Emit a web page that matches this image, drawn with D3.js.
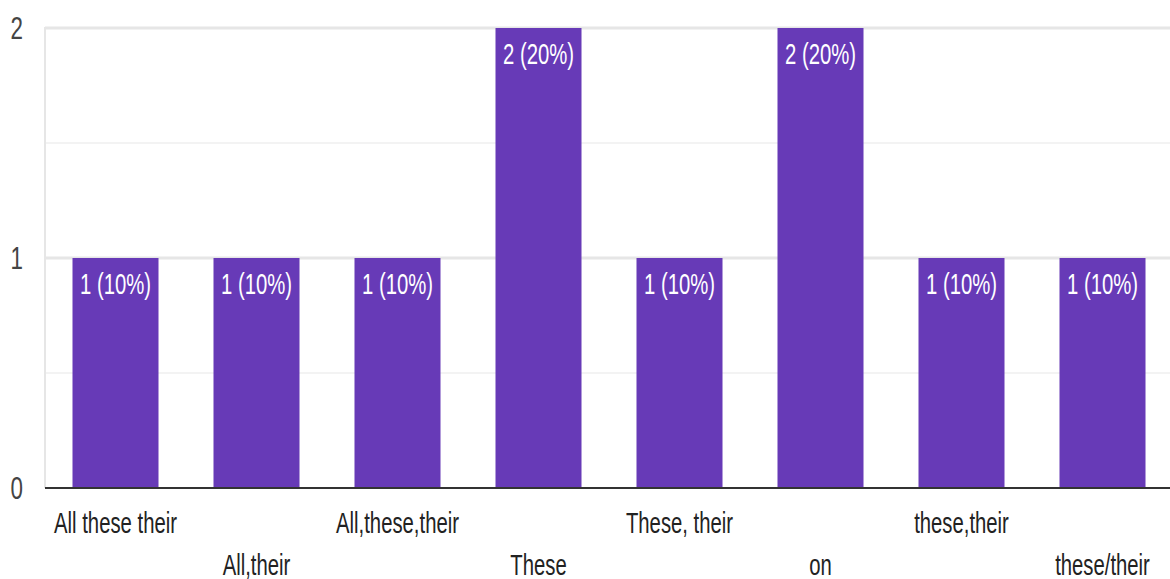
<!DOCTYPE html>
<html lang="en">
    <head>
        <meta charset="utf-8">
        <title>Responses bar chart</title>
        <script type="text/javascript" src="https://d3js.org/d3.v7.min.js"></script>
        <style type="text/css">
            body { margin: 0; background: #fff; }
            text { font-family: "Liberation Sans", Arial, sans-serif; }
        </style>
    </head>
    <body>
        <script type="text/javascript">

            // Datos
            var categories = ["All these their", "All,their", "All,these,their", "These",
                              "These, their", "on", "these,their", "these/their"];
            var counts = [1, 1, 1, 2, 1, 2, 1, 1];
            var percents = ["10%", "10%", "10%", "20%", "10%", "20%", "10%", "10%"];
            var yTicks = [0, 1, 2];
            var yMinor = [0.5, 1.5];

            var w = 1170;
            var h = 579;
            var padLeft = 45, padTop = 28, baseY = 488;
            var sx = 0.7; // texto estrecho

            var svg = d3.select("body")
                        .append("svg")
                        .attr("width", w)
                        .attr("height", h);

            var xScale = d3.scaleBand()
                           .domain(categories)
                           .range([padLeft, padLeft + 8 * 141])
                           .paddingInner(0.39)
                           .paddingOuter(0.195);

            var yScale = d3.scaleLinear()
                           .domain([0, 2])
                           .range([baseY, padTop]);

            // Lineas de rejilla
            svg.selectAll("line.minor")
                .data(yMinor)
                .enter()
                .append("line")
                .attr("class", "minor")
                .attr("x1", padLeft).attr("x2", w)
                .attr("y1", function(d) { return yScale(d); })
                .attr("y2", function(d) { return yScale(d); })
                .attr("stroke", "#f3f3f3")
                .attr("stroke-width", 2);

            svg.selectAll("line.major")
                .data(yTicks.filter(function(d) { return d > 0; }))
                .enter()
                .append("line")
                .attr("class", "major")
                .attr("x1", padLeft).attr("x2", w)
                .attr("y1", function(d) { return yScale(d); })
                .attr("y2", function(d) { return yScale(d); })
                .attr("stroke", "#e6e6e6")
                .attr("stroke-width", 3);

            svg.append("line")
                .attr("x1", padLeft).attr("x2", padLeft)
                .attr("y1", padTop - 1).attr("y2", baseY)
                .attr("stroke", "#e6e6e6")
                .attr("stroke-width", 2);

            // Barras
            svg.selectAll("rect")
                .data(counts)
                .enter()
                .append("rect")
                .attr("x", function(d, i) { return xScale(categories[i]); })
                .attr("y", function(d) { return yScale(d); })
                .attr("width", xScale.bandwidth())
                .attr("height", function(d) { return baseY - yScale(d); })
                .attr("fill", "#673ab7");

            // Etiquetas de barras
            svg.selectAll("text.val")
                .data(counts)
                .enter()
                .append("text")
                .attr("class", "val")
                .attr("transform", function(d, i) {
                    var cx = xScale(categories[i]) + xScale.bandwidth() / 2;
                    return "translate(" + cx + "," + (yScale(d) + 36) + ") scale(" + sx + ",1)";
                })
                .attr("text-anchor", "middle")
                .attr("font-size", 29)
                .attr("fill", "#fff")
                .text(function(d, i) { return d + " (" + percents[i] + ")"; });

            // Eje X
            svg.append("line")
                .attr("x1", padLeft).attr("x2", w)
                .attr("y1", baseY).attr("y2", baseY)
                .attr("stroke", "#333")
                .attr("stroke-width", 2);

            svg.selectAll("text.cat")
                .data(categories)
                .enter()
                .append("text")
                .attr("class", "cat")
                .attr("transform", function(d, i) {
                    var cx = xScale(d) + xScale.bandwidth() / 2;
                    var y = (i % 2 === 0) ? 533 : 575;
                    return "translate(" + cx + "," + y + ") scale(" + sx + ",1)";
                })
                .attr("text-anchor", "middle")
                .attr("font-size", 29)
                .attr("fill", "#222")
                .text(function(d) { return d; });

            // Eje Y
            svg.selectAll("text.ytick")
                .data(yTicks)
                .enter()
                .append("text")
                .attr("class", "ytick")
                .attr("transform", function(d) {
                    return "translate(23," + (yScale(d) + 11) + ") scale(" + sx + ",1)";
                })
                .attr("text-anchor", "end")
                .attr("font-size", 32)
                .attr("fill", "#444")
                .text(function(d) { return d; });
        </script>
    </body>
</html>
